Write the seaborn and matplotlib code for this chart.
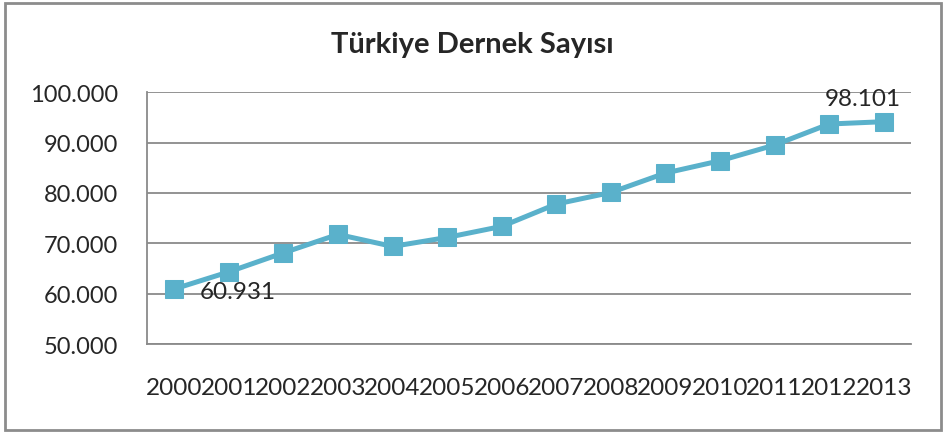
import matplotlib.pyplot as plt
import matplotlib.ticker as mticker
from matplotlib.patches import Rectangle
import numpy as np
import pandas as pd
import seaborn as sns

years = ['2000', '2001', '2002', '2003', '2004', '2005', '2006',
         '2007', '2008', '2009', '2010', '2011', '2012', '2013']
dernek = [60931, 64330, 68110, 71770, 69380, 71170, 73360,
          77800, 80100, 83960, 86400, 89520, 93700, 94160]
point_labels = ['60.931', '', '', '', '', '', '',
                '', '', '', '', '', '', '98.101']

title = 'Türkiye Dernek Sayısı'
line_color = '#5AB1CB'
grid_color = '#8A8A8A'

sns.set_style('white')
plt.rcParams['font.family'] = ['Lato', 'DejaVu Sans']

df = pd.DataFrame({'x': np.arange(len(years)), 'value': dernek})

fig = plt.figure(figsize=(9.44, 4.35), dpi=100)
ax = fig.add_axes([147 / 944, 1 - 345 / 435, (911 - 147) / 944, (345 - 93.3) / 435])

sns.lineplot(data=df, x='x', y='value', ax=ax, color=line_color,
             linewidth=3.6, marker='s', markersize=13.5,
             markeredgecolor=line_color, legend=False)

ax.set_xlim(-0.5, len(years) - 0.5)
ax.set_ylim(50000, 100000)
ax.yaxis.set_major_locator(mticker.MultipleLocator(10000))
ax.yaxis.set_major_formatter(mticker.FuncFormatter(
    lambda v, _: f'{int(v):,}'.replace(',', '.')))

# ticks between categories, labels centred on categories
ax.set_xticks(np.arange(-0.5, len(years), 1.0))
ax.set_xticklabels([])
ax.set_xticks(np.arange(len(years)), minor=True)
ax.set_xticklabels(years, minor=True)
ax.tick_params(axis='x', which='major', direction='out', length=6,
               width=1.3, color=grid_color)
ax.tick_params(axis='x', which='minor', length=0, pad=24, labelsize=17.5)
ax.tick_params(axis='y', direction='out', length=7, width=1.3,
               color=grid_color, pad=14, labelsize=17)

ax.grid(axis='y', color=grid_color, linewidth=1.3)
ax.grid(axis='x', visible=False)
ax.set_axisbelow(True)
for side in ['top', 'right']:
    ax.spines[side].set_visible(False)
for side in ['left', 'bottom']:
    ax.spines[side].set_color(grid_color)
    ax.spines[side].set_linewidth(1.3)
ax.set_xlabel('')
ax.set_ylabel('')

for i, txt in enumerate(point_labels):
    if not txt:
        continue
    if i == 0:
        ax.annotate(txt, (i, dernek[i]), xytext=(18, -1.5), textcoords='offset points',
                    ha='left', va='center', fontsize=17.5)
    else:
        ax.annotate(txt, (i, dernek[i]), xytext=(-15, 16.5), textcoords='offset points',
                    ha='center', va='center', fontsize=17.5)

fig.text(0.5, 1 - 45 / 435, title, ha='center', va='center',
         fontsize=21, fontweight='bold')

fig.patches.append(Rectangle((5 / 944, 4 / 435), 936 / 944, 427 / 435,
                             transform=fig.transFigure, fill=False,
                             edgecolor='#8C8C8C', linewidth=2))

fig.savefig('out.png', dpi=100)
